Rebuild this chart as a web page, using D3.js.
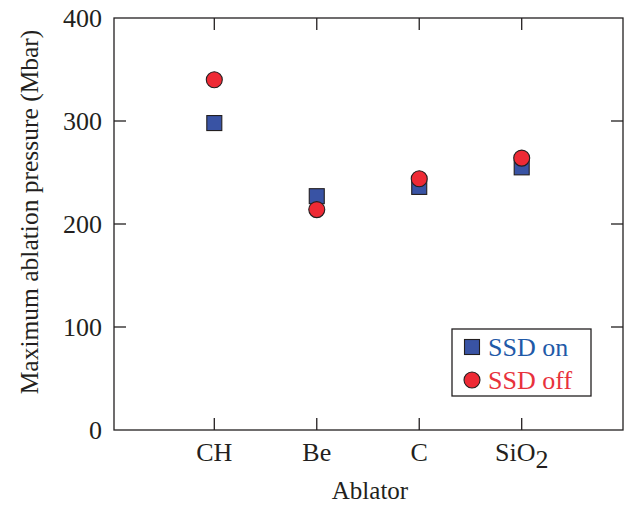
<!DOCTYPE html>
<html>
<head>
<meta charset="utf-8">
<script src="https://cdn.jsdelivr.net/npm/d3@7"></script>
<style>
  html, body { margin: 0; padding: 0; background: #fff; }
  svg text { font-family: "Liberation Serif", "Times New Roman", serif; fill: #231f20; }
</style>
</head>
<body>
<svg id="chart" width="626" height="506"></svg>
<script>
// Ablator materials and maximum ablation pressure (Mbar)
const ablators = ["CH", "Be", "C", "SiO2"];
const ssdOn = [298, 227, 236, 255];
const ssdOff = [340, 214, 244, 264];
const yTicks = [0, 100, 200, 300, 400];

const svg = d3.select("#chart");
const frame = { left: 114, right: 623, top: 18, bottom: 430 };
const tickLen = 12;
const ink = "#231f20";
const fs = 26;

// categories sit at 1..4 on a 0..5 linear axis
const x = d3.scaleLinear().domain([1, 4]).range([214.3, 521.7]);
const y = d3.scaleLinear().domain([0, 400]).range([frame.bottom, frame.top]);

const g = svg.append("g");

// plot frame
g.append("rect")
  .attr("x", frame.left).attr("y", frame.top)
  .attr("width", frame.right - frame.left).attr("height", frame.bottom - frame.top)
  .attr("fill", "none").attr("stroke", ink).attr("stroke-width", 1.3);

// inward ticks on all four sides
const idx = ablators.map((d, i) => i + 1);
const tickStyle = sel => sel.attr("stroke", ink).attr("stroke-width", 1.3);
g.selectAll(".xb").data(idx).join("line")
  .attr("x1", d => x(d)).attr("x2", d => x(d))
  .attr("y1", frame.bottom).attr("y2", frame.bottom - tickLen).call(tickStyle);
g.selectAll(".xt").data(idx).join("line")
  .attr("x1", d => x(d)).attr("x2", d => x(d))
  .attr("y1", frame.top).attr("y2", frame.top + tickLen).call(tickStyle);
g.selectAll(".yl").data(yTicks.slice(1, -1)).join("line")
  .attr("x1", frame.left).attr("x2", frame.left + tickLen)
  .attr("y1", d => y(d)).attr("y2", d => y(d)).call(tickStyle);
g.selectAll(".yr").data(yTicks.slice(1, -1)).join("line")
  .attr("x1", frame.right).attr("x2", frame.right - tickLen)
  .attr("y1", d => y(d)).attr("y2", d => y(d)).call(tickStyle);

// y tick labels
g.selectAll(".ylab").data(yTicks).join("text")
  .attr("x", 102).attr("y", d => y(d) + 9)
  .attr("text-anchor", "end").attr("font-size", fs)
  .text(d => d);

// x tick labels, SiO2 with subscript
const xl = g.selectAll(".xlab").data(ablators).join("text")
  .attr("x", (d, i) => x(i + 1)).attr("y", 461)
  .attr("text-anchor", "middle").attr("font-size", fs);
xl.each(function(d) {
  const t = d3.select(this);
  const m = d.match(/^(.*?)(\d+)$/);
  if (m) {
    t.append("tspan").text(m[1]);
    t.append("tspan").attr("dy", 7).text(m[2]);
  } else {
    t.text(d);
  }
});

// axis titles
g.append("text").attr("x", 370).attr("y", 499)
  .attr("text-anchor", "middle").attr("font-size", 25).text("Ablator");
g.append("text")
  .attr("transform", "translate(38,212) rotate(-90)")
  .attr("text-anchor", "middle").attr("font-size", 25.5)
  .text("Maximum ablation pressure (Mbar)");

const blue = "#3953a4", red = "#ee2a35";
const sq = 15, r = 8;

// SSD on: squares
g.selectAll(".on").data(ssdOn).join("rect")
  .attr("x", (d, i) => x(i + 1) - sq / 2).attr("y", d => y(d) - sq / 2)
  .attr("width", sq).attr("height", sq)
  .attr("fill", blue).attr("stroke", ink).attr("stroke-width", 1.1);

// SSD off: circles
g.selectAll(".off").data(ssdOff).join("circle")
  .attr("cx", (d, i) => x(i + 1)).attr("cy", d => y(d)).attr("r", r)
  .attr("fill", red).attr("stroke", ink).attr("stroke-width", 1.1);

// legend
const lg = g.append("g");
lg.append("rect").attr("x", 452).attr("y", 329).attr("width", 139).attr("height", 67)
  .attr("fill", "#fff").attr("stroke", ink).attr("stroke-width", 1.3);
lg.append("rect").attr("x", 472 - sq / 2).attr("y", 347 - sq / 2)
  .attr("width", sq).attr("height", sq)
  .attr("fill", blue).attr("stroke", ink).attr("stroke-width", 1.1);
lg.append("circle").attr("cx", 472).attr("cy", 380).attr("r", r)
  .attr("fill", red).attr("stroke", ink).attr("stroke-width", 1.1);
lg.append("text").attr("x", 488).attr("y", 356).attr("font-size", fs)
  .style("fill", "#1f5aa8").text("SSD on");
lg.append("text").attr("x", 488).attr("y", 389).attr("font-size", fs)
  .style("fill", "#e8323c").text("SSD off");
</script>
</body>
</html>
